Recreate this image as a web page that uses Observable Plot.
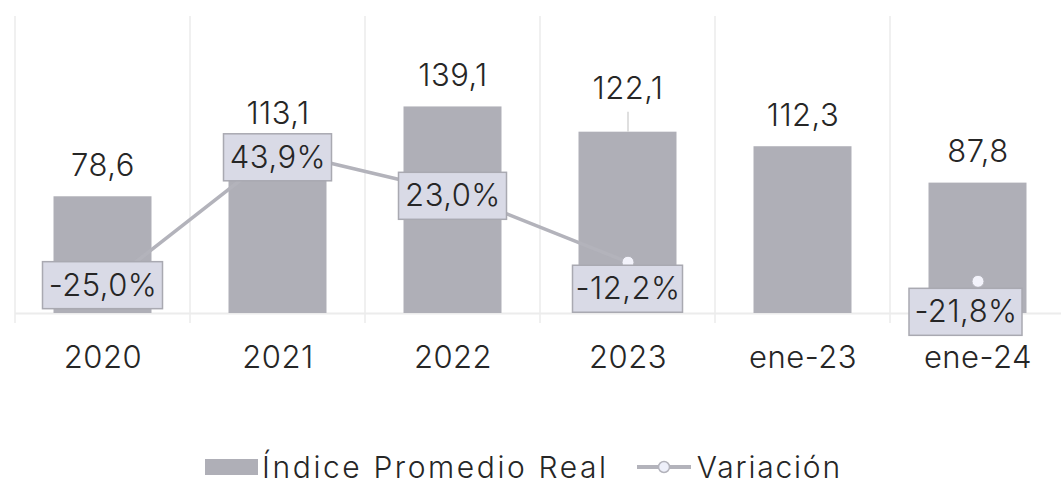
<!DOCTYPE html>
<html>
<head>
<meta charset="utf-8">
<script src="https://cdn.jsdelivr.net/npm/d3@7"></script>
<script src="https://cdn.jsdelivr.net/npm/@observablehq/plot@0.6"></script>
<style>
  html, body { margin: 0; padding: 0; background: #ffffff; }
  body { position: relative; width: 1061px; height: 486px; overflow: hidden; font-family: Inter, "DejaVu Sans", sans-serif; font-weight: 300; }
  #legend { position: absolute; top: 449px; left: 0; width: 1061px; height: 36px; display: flex; justify-content: flex-start; align-items: center; font-size: 30px; color: #262626; padding-left: 205px; box-sizing: border-box; white-space: nowrap; }
  .sw { display: inline-block; width: 53px; height: 16px; background: #afafb7; margin-right: 4px; }
  .t1 { letter-spacing: 2.6px; }
  .t2 { letter-spacing: 1.8px; }
  .gap { display: inline-block; width: 28px; }
  svg text { font-weight: 300; letter-spacing: 0.5px; }
</style>
</head>
<body>
<div id="chart"></div>
<div id="legend"></div>
<script>
// ---- data ----
const categories = ["2020", "2021", "2022", "2023", "ene-23", "ene-24"];
const indice = [78.6, 113.1, 139.1, 122.1, 112.3, 87.8];
const variacion = [-25.0, 43.9, 23.0, -12.2, null, -21.8];
const seriesNames = ["Índice Promedio Real", "Variación"];

// ---- build table ----
const data = categories.map((c, i) => ({cat: c, val: indice[i], pct: variacion[i]}));
const fmt = v => v.toFixed(1).replace(".", ",");
const fmtPct = v => v.toFixed(1).replace(".", ",") + "%";
// secondary axis (percent) mapped onto the primary scale's domain
const pctToY = d3.scaleLinear([-38, 111.5], [0, 200]);

const barColor = "#afafb7";
const lineColor = "#b3b3bb";
const textColor = "#262626";
const bw = 175;

// label placement tweaks (pixels) per category: [dx, dy, boxWidth]
const labelPlacement = {
  "2020": [0, -2, 120],
  "2021": [0, 7, 108],
  "2022": [0, 4, 108],
  "2023": [0, 27, 110],
  "ene-24": [-12, 31, 113]
};

const pctData = data.filter(d => d.pct != null);
const labelMarks = [];
for (const d of pctData) {
  const [dx, dy, w] = labelPlacement[d.cat];
  const inset = (bw - w) / 2;
  labelMarks.push(
    Plot.barY([d], {
      x: "cat", y1: r => pctToY(r.pct), y2: r => pctToY(r.pct),
      insetTop: -23.5, insetBottom: -23.5, insetLeft: inset, insetRight: inset,
      dx, dy, fill: "#d9dae6", stroke: "#a9a9b1", strokeWidth: 1.5
    }),
    Plot.text([d], {
      x: "cat", y: r => pctToY(r.pct), text: r => fmtPct(r.pct),
      dx, dy, lineAnchor: "middle", fontSize: 31, fill: textColor
    })
  );
}

const chart = Plot.plot({
  width: 1061,
  height: 400,
  marginLeft: 15,
  marginRight: -4,
  marginTop: 16,
  marginBottom: 87,
  x: {domain: categories, padding: 0},
  y: {domain: [0, 200], axis: null},
  style: {fontFamily: "Inter, 'DejaVu Sans', sans-serif", fontSize: "31px", color: textColor, background: "white"},
  marks: [
    // vertical gridlines at category boundaries
    Plot.barY(categories, {x: d => d, y1: 0, y2: 200, insetLeft: -1, insetRight: bw - 1, insetBottom: -10, fill: "#f0f0f0"}),
    Plot.ruleY([0], {stroke: "#ececec", strokeWidth: 2}),
    Plot.barY(data, {x: "cat", y: "val", fill: barColor, insetLeft: 38.5, insetRight: 38.5}),
    // leader line for the lifted 2023 label
    Plot.ruleX(data.filter(d => d.cat === "2023"), {x: "cat", y1: "val", y2: "val", insetTop: -20, stroke: "#d4d4d4", strokeWidth: 1.5}),
    Plot.text(data.filter(d => d.cat !== "2023"), {x: "cat", y: "val", text: d => fmt(d.val), dy: -31, lineAnchor: "middle", fontSize: 31, fill: textColor}),
    Plot.text(data.filter(d => d.cat === "2023"), {x: "cat", y: "val", text: d => fmt(d.val), dy: -43, lineAnchor: "middle", fontSize: 31, fill: textColor}),
    Plot.line(data, {x: "cat", y: d => d.pct == null ? NaN : pctToY(d.pct), stroke: lineColor, strokeWidth: 3.5}),
    Plot.dot(pctData, {x: "cat", y: d => pctToY(d.pct), r: 6, fill: "#f3f3fb", stroke: lineColor, strokeWidth: 1}),
    ...labelMarks,
    Plot.axisX({tickSize: 0, tickPadding: 32, fontSize: 31, fill: textColor, label: null})
  ]
});
document.getElementById("chart").appendChild(chart);

// ---- legend ----
const legend = document.getElementById("legend");
legend.innerHTML =
  `<span class="sw"></span><span class="t1">${seriesNames[0]}</span><span class="gap"></span>` +
  `<svg width="54" height="20" style="margin-right:6px"><line x1="0" x2="54" y1="10" y2="10" stroke="${lineColor}" stroke-width="4"/><circle cx="27" cy="10" r="5.5" fill="#eef0fa" stroke="${lineColor}" stroke-width="1.5"/></svg>` +
  `<span class="t2">${seriesNames[1]}</span>`;
</script>
</body>
</html>
